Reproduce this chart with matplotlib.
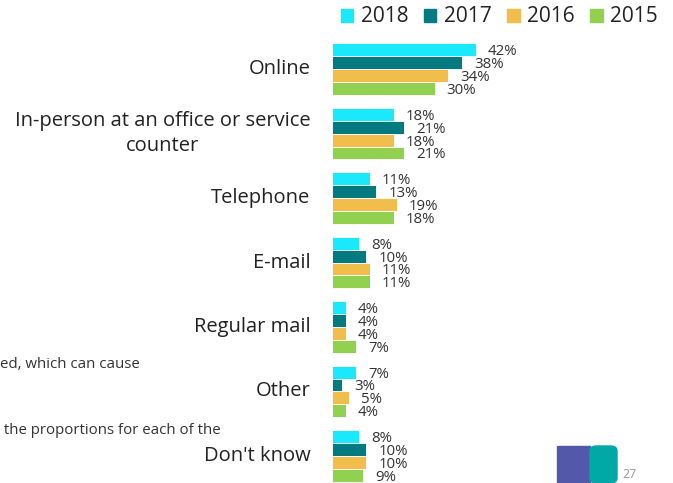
import matplotlib
matplotlib.use("Agg")
import matplotlib.pyplot as plt
import matplotlib.patches as mpatches
import numpy as np

plt.rcParams['font.family'] = ['Open Sans', 'DejaVu Sans']

categories = ["Online", "In-person at an office or service\ncounter", "Telephone",
              "E-mail", "Regular mail", "Other", "Don't know"]
years = ["2018", "2017", "2016", "2015"]
values = {
    "2018": [42, 18, 11, 8, 4, 7, 8],
    "2017": [38, 21, 13, 10, 4, 3, 10],
    "2016": [34, 18, 19, 11, 4, 5, 10],
    "2015": [30, 21, 18, 11, 7, 4, 9],
}
colors = {"2018": "#1AE8FD", "2017": "#037A80", "2016": "#F1BD4B", "2015": "#92D050"}

W, H = 673, 483
fig = plt.figure(figsize=(W / 100, H / 100), dpi=100)
# axes from x=332 to 673 px, y from 37 to 483 px
ax = fig.add_axes([332 / W, 0, (W - 332) / W, (483 - 37) / H])
ax.set_xlim(0, (W - 332) / 3.42)
ax.set_ylim(6.42, -0.5)

bar_h = 0.2
y = np.arange(len(categories))
for j, yr in enumerate(years):
    off = (j - 1.5) * bar_h
    ax.barh(y + off, values[yr], height=bar_h, color=colors[yr],
            edgecolor="#FFFFFF", linewidth=0.6, label=yr)
    for yi, v in zip(y + off, values[yr]):
        ax.text(v + 3.5, yi + 0.03, f"{v}%", va="center", ha="left",
                fontsize=10.8, color="#333333")

ax.set_yticks(y)
ax.set_yticklabels([])
for yi, c in zip(y, categories):
    ax.text(-6.3, yi, c, ha="right", va="center", multialignment="center",
            fontsize=14.5, color="#222222", clip_on=False, linespacing=1.35)
ax.set_xticks([])
for s in ax.spines.values():
    s.set_visible(False)
ax.tick_params(left=False)

# legend
handles = [mpatches.Patch(color=colors[yr], label=yr) for yr in years]
fig.legend(handles=handles, loc="center right", bbox_to_anchor=(666 / W, 1 - 17 / H),
           ncol=4, frameon=False, fontsize=15, handlelength=0.6, handleheight=0.6,
           handletextpad=0.35, columnspacing=0.75, borderaxespad=0, labelcolor="#222222")

# partial footnote texts from slide
fig.text(0 / W, 1 - 365 / H, "ed, which can cause", fontsize=10.8, color="#333333",
         ha="left", va="center")
fig.text(0 / W, 1 - 431 / H, " the proportions for each of the", fontsize=10.8,
         color="#333333", ha="left", va="center")

# logo fragment
fig.patches.append(mpatches.Rectangle((557 / W, 0), 33 / W, (483 - 446) / H,
                                      transform=fig.transFigure, color="#5458A8"))
fig.patches.append(mpatches.FancyBboxPatch((590 / W, 0), 27 / W, (483 - 446) / H,
                                           boxstyle="round,pad=0,rounding_size=0.01",
                                           transform=fig.transFigure, color="#00A9A5"))
fig.text(622 / W, 1 - 475 / H, "27", fontsize=9, color="#999999", ha="left", va="center")

fig.savefig("out.png", dpi=100)
